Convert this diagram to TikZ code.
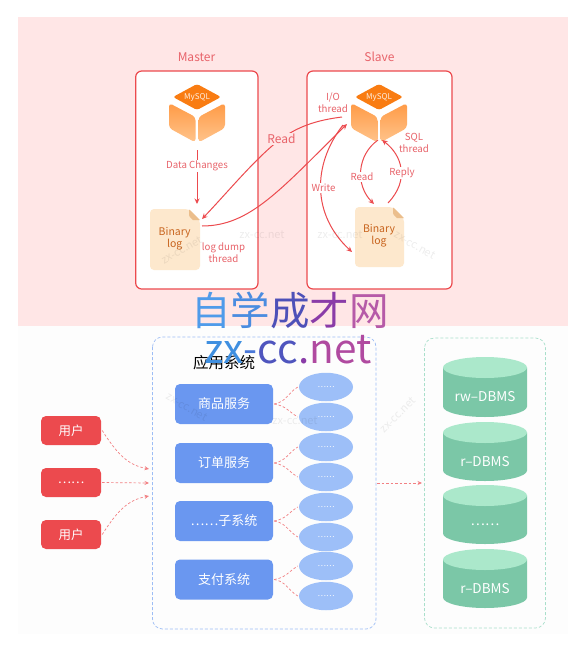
\documentclass[tikz,border=0pt]{standalone}
\usepackage{fontspec}
\setmainfont{Noto Sans CJK SC}
\usetikzlibrary{arrows.meta,shapes.geometric}
\definecolor{cred}{HTML}{EC4A4E}
\definecolor{ctxt}{HTML}{E8636A}
\definecolor{cpink}{HTML}{FFE6E6}
\definecolor{clow}{HTML}{FDFDFD}
\definecolor{cblue}{HTML}{6A97F0}
\definecolor{clblue}{HTML}{9DBFF8}
\definecolor{cdash}{HTML}{9DBDF5}
\definecolor{cgdash}{HTML}{A9DFCB}
\definecolor{cgreen}{HTML}{7BC7A7}
\definecolor{cgtop}{HTML}{ABE8CB}
\definecolor{cfile}{HTML}{FDE8CD}
\definecolor{cfold}{HTML}{EBBE8C}
\definecolor{cfiletxt}{HTML}{C8641E}
\definecolor{corange}{HTML}{F97C12}
\definecolor{corl}{HTML}{FFC48C}
\definecolor{cord}{HTML}{FF9A45}
\tikzset{
  x=1pt,y=-1pt,
  panel/.style={draw=cred,line width=1.2pt,fill=white,rounded corners=6pt},
  ttl/.style={text=ctxt,font=\fontsize{12}{14}\selectfont},
  lbl/.style={text=ctxt,font=\fontsize{9.7}{12}\selectfont,align=center,inner sep=1pt},
  flow/.style={draw=cred,line width=1pt,-{Stealth[length=5.5pt,width=5pt]}},
  userbox/.style={fill=cred,rounded corners=5pt,minimum width=60pt,minimum height=29pt,inner sep=0pt,text=white,font=\fontsize{12.5}{14}\selectfont},
  svc/.style={fill=cblue,rounded corners=5pt,minimum width=98pt,minimum height=40pt,inner sep=0pt,text=white,font=\fontsize{13}{15}\selectfont},
  oval/.style={ellipse,fill=clblue,minimum width=54pt,minimum height=28.5pt,inner sep=0pt,text=white,font=\fontsize{8}{9}\selectfont},
  dashl/.style={draw=cred!70,line width=.7pt,dash pattern=on 2.5pt off 2pt},
  dasha/.style={dashl,-{Stealth[length=4.5pt,width=4pt]}},
  wmk/.style={text=black,opacity=.07,font=\fontsize{11}{13}\selectfont,inner sep=0pt},
}
\newcommand{\cubeat}[3]{%
  \begin{scope}[shift={(#1,#2)}]
    \fill[corange,rounded corners=2.5pt] (0,-13) -- (24,0) -- (0,13) -- (-24,0) -- cycle;
    \path[top color=cord,bottom color=corl,rounded corners=3.5pt] (-28,6) -- (-1.5,20) -- (-1.5,45.5) -- (-28,31) -- cycle;
    \path[top color=cord,bottom color=corl,rounded corners=3.5pt] (28,6) -- (1.5,20) -- (1.5,45.5) -- (28,31) -- cycle;
    \node[text=white!88!corange,font=\fontsize{8}{9}\selectfont,inner sep=0pt] (#3) at (0,0) {MySQL};
  \end{scope}}
\newcommand{\fileat}[7]{%
  \fill[cfile,rounded corners=4pt] (#1,#2) -- (#3-11,#2) -- (#3,#2+11) -- (#3,#4) -- (#1,#4) -- cycle;
  \fill[cfold] (#3-11,#2) -- (#3,#2+11) -- (#3-7,#2+11) [rounded corners=1pt] -- (#3-11,#2+7) -- cycle;
  \node[text=cfiletxt,font=\fontsize{10.5}{12}\selectfont,align=center,inner sep=0pt] (#5) at (#6,#7) {Binary\\log};}
\newcommand{\dbat}[4]{%
  \fill[cgreen] (443,#1+10.5) -- (443,#2-10.5) arc[start angle=180,end angle=360,x radius=42,y radius=-10.5] -- (527,#1+10.5) -- cycle;
  \fill[cgtop] (485,#1+10.5) ellipse[x radius=42,y radius=10.5];
  \node[text=white,font=\fontsize{13.5}{15}\selectfont,inner sep=0pt] (#3) at (485,#1+40) {#4};}
\begin{document}
\begin{tikzpicture}
\useasboundingbox (0,0) rectangle (584,659);
\fill[white] (0,0) rectangle (584,659);
\fill[cpink] (18,17) rectangle (568,326);
\fill[clow] (18,326) rectangle (568,634);

% upper part
\draw[panel] (135.7,71) rectangle (258,289);
\draw[panel] (307,71) rectangle (452,289);
\node[ttl] (mt) at (196.5,57) {Master};
\node[ttl] (st) at (379.5,57) {Slave};
\cubeat{197}{97}{mysqlm}
\cubeat{379}{97}{mysqls}
\fileat{150}{209}{200}{270}{binm}{174.7}{238.5}
\fileat{355}{207}{404}{267}{bins}{379}{236}

\coordinate (dc0) at (197,150);
\coordinate (dc1) at (197,204);
\coordinate (rd0) at (342,117);
\coordinate (rd1) at (202,219);
\coordinate (dp0) at (202,226);
\coordinate (dp1) at (347,124);
\coordinate (wr0) at (343,125);
\coordinate (wr1) at (352,252);
\coordinate (ri0) at (378,140);
\coordinate (ri1) at (374,204);
\coordinate (rp0) at (388,203);
\coordinate (rp1) at (382,140);

\draw[flow] (dc0) -- (dc1);
\draw[flow] (rd0) .. controls (318,120) and (295,126) .. (272,146) .. controls (250,165) and (225,195) .. (rd1);
\draw[flow] (dp0) .. controls (250,226) and (280,190) .. (dp1);
\draw[flow] (wr0) .. controls (312,165) and (312,215) .. (wr1);
\draw[flow] (ri0) .. controls (357,155) and (355,185) .. (ri1);
\draw[flow] (rp0) .. controls (410,180) and (402,155) .. (rp1);

\node[ttl,fill=cpink,inner sep=1.5pt] (rdl) at (281.5,139) {Read};
\node[lbl,fill=white] (dcl) at (197,166) {Data Changes};
\node[lbl,fill=white] (wrl) at (323.5,188) {Write};
\node[lbl,fill=white] (ril) at (362,177) {Read};
\node[lbl,fill=white] (rpl) at (402,173) {Reply};
\node[lbl] (iol) at (333,103) {I/O\\thread};
\node[lbl] (sql) at (414,143) {SQL\\thread};
\node[lbl] (dpl) at (223.5,252.5) {log dump\\thread};

% lower part
\draw[draw=cdash,line width=.7pt,dash pattern=on 3pt off 2pt,rounded corners=10pt] (152.5,337) rectangle (376,629);
\draw[draw=cgdash,line width=.7pt,dash pattern=on 3pt off 2pt,rounded corners=10pt] (424.5,338) rectangle (545.5,628);
\node[font=\fontsize{15.5}{17}\selectfont,inner sep=0pt] (app) at (224,363) {应用系统};

\node[userbox] (u1) at (71,430.5) {用户};
\node[userbox] (u2) at (71,482.5) {……};
\node[userbox] (u3) at (71,534.5) {用户};

\node[svc] (s1) at (224,404) {商品服务};
\node[svc] (s2) at (224,463) {订单服务};
\node[svc] (s3) at (224,521) {……子系统};
\node[svc] (s4) at (224,579.5) {支付系统};

\node[oval] (e1) at (326,387) {……};
\node[oval] (e2) at (326,417) {……};
\node[oval] (e3) at (326,447) {……};
\node[oval] (e4) at (326,477) {……};
\node[oval] (e5) at (326,507) {……};
\node[oval] (e6) at (326,537) {……};
\node[oval] (e7) at (326,566) {……};
\node[oval] (e8) at (326,596) {……};

\coordinate (in1) at (149,469);
\coordinate (in2) at (149,483);
\coordinate (in3) at (149,496);
\draw[dasha] ([xshift=1pt]u1.east) .. controls (118,455) and (128,465) .. (in1);
\draw[dasha] ([xshift=1pt]u2.east) -- (in2);
\draw[dasha] ([xshift=1pt]u3.east) .. controls (118,510) and (128,500) .. (in3);

\foreach \s/\a/\b in {s1/e1/e2,s2/e3/e4,s3/e5/e6,s4/e7/e8}{
  \draw[dashl] ([xshift=1pt]\s.east) .. controls +(12,-2) and +(-10,6) .. ([xshift=-1pt]\a.west);
  \draw[dashl] ([xshift=1pt]\s.east) .. controls +(12,2) and +(-10,-6) .. ([xshift=-1pt]\b.west);
}

\coordinate (ap) at (377,483);
\coordinate (dbin) at (422,483);
\draw[dasha] (ap) -- (dbin);

\dbat{357}{417}{d1}{rw–DBMS}
\dbat{422}{481}{d2}{r–DBMS}
\dbat{485}{544}{d3}{……}
\dbat{549}{608}{d4}{r–DBMS}

% faint watermarks
\node[wmk] (w1) at (262,235) {zx-cc.net};
\node[wmk] (w2) at (340,235) {zx-cc.net};
\node[wmk,rotate=30] (w3) at (182,250) {zx-cc.net};
\node[wmk,rotate=-30] (w4) at (415,245) {zx-cc.net};
\node[wmk,rotate=-30] (w5) at (187,407) {zx-cc.net};
\node[wmk] (w6) at (295,421) {zx-cc.net};
\node[wmk,rotate=45] (w7) at (398,415) {zx-cc.net};

% big overlay text
\node[inner sep=0pt,font=\fontsize{39.5}{41}\selectfont,anchor=center] (wm1) at (290,310.5)
  {\textcolor[HTML]{4F9BEA}{自}\textcolor[HTML]{4A8CE0}{学}\textcolor[HTML]{4E50B8}{成}\textcolor[HTML]{8A3CA8}{才}\textcolor[HTML]{B65AA8}{网}};
\node[inner sep=0pt,font=\fontsize{40.5}{42}\selectfont,anchor=center] (wm2) at (288,350)
  {\textcolor[HTML]{3F8FE0}{zx}\textcolor[HTML]{4A78D8}{-}\textcolor[HTML]{4F55BE}{cc}\textcolor[HTML]{8A3CA8}{.}\textcolor[HTML]{B04AA0}{net}};
\end{tikzpicture}
\end{document}
